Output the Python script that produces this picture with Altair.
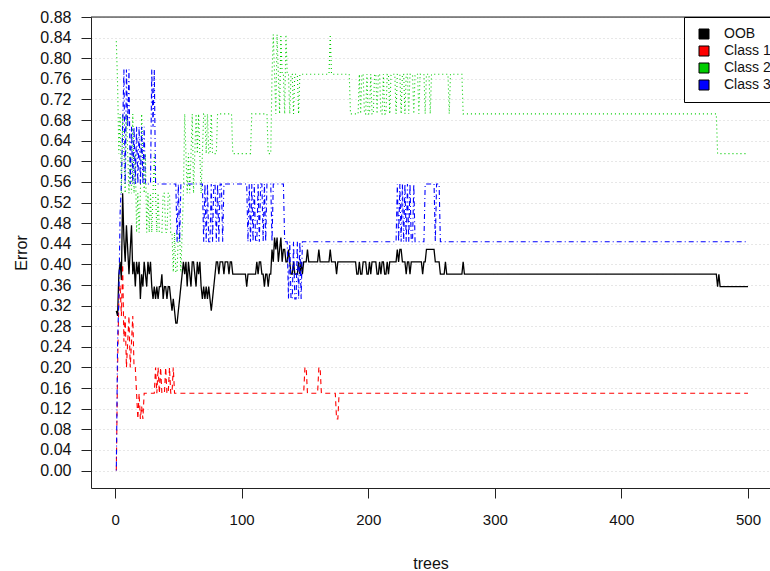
import altair as alt
import pandas as pd

N_TREES = 500

# Error-rate runs per series: (first tree of the run, error rate held until the next run)
oob_runs = [
    (1, .310), (2, .300), (3, .381), (4, .405), (5, .370), (6, .538), (7, .450), (8, .405),
    (9, .476), (10, .429), (11, .381), (12, .429), (13, .476), (14, .381), (15, .405), (16, .357),
    (17, .405), (18, .381), (19, .405), (20, .333), (21, .381), (22, .357), (23, .405), (24, .381),
    (25, .357), (26, .405), (27, .381), (28, .405), (29, .357), (30, .333), (31, .357), (32, .333),
    (33, .357), (34, .333), (35, .357), (37, .381), (38, .333), (39, .357), (41, .333), (42, .357),
    (44, .333), (45, .310), (46, .333), (47, .310), (48, .286), (50, .310), (51, .333), (52, .357),
    (53, .381), (54, .405), (55, .381), (56, .405), (57, .357), (58, .405), (59, .381), (60, .357),
    (61, .405), (63, .381), (64, .357), (65, .405), (66, .381), (67, .405), (68, .357), (69, .333),
    (70, .357), (71, .333), (72, .357), (73, .333), (74, .357), (75, .333), (76, .310), (77, .333),
    (78, .357), (79, .381), (80, .405), (82, .381), (83, .405), (86, .381), (87, .405), (90, .381),
    (91, .405), (93, .381), (104, .357), (105, .381), (112, .405), (113, .381), (114, .405),
    (116, .381), (118, .357), (119, .381), (121, .357), (122, .381), (124, .429), (125, .405),
    (126, .452), (127, .429), (128, .452), (129, .405), (130, .429), (131, .452), (132, .405),
    (133, .429), (135, .405), (137, .429), (138, .405), (139, .381), (141, .405), (142, .381),
    (145, .405), (146, .381), (147, .405), (148, .381), (149, .405), (152, .429), (153, .405),
    (161, .429), (162, .405), (170, .429), (171, .405), (175, .381), (176, .405), (191, .381),
    (193, .405), (194, .381), (196, .405), (199, .381), (201, .405), (202, .381), (203, .405),
    (207, .381), (209, .405), (210, .381), (211, .405), (213, .381), (215, .405), (216, .381),
    (217, .405), (223, .429), (224, .405), (225, .429), (227, .405), (230, .381), (231, .405),
    (233, .381), (234, .405), (243, .381), (244, .405), (246, .429), (253, .405), (257, .381),
    (261, .405), (262, .381), (275, .405), (276, .381), (476, .357), (477, .381), (478, .357),
]

class1_runs = [
    (1, .000), (2, .200), (3, .333), (4, .360), (5, .300), (6, .400), (7, .250), (8, .300),
    (9, .200), (10, .250), (11, .300), (12, .200), (13, .250), (14, .300), (15, .200), (17, .150),
    (18, .100), (19, .150), (20, .100), (21, .125), (22, .100), (23, .150), (32, .200), (33, .150),
    (34, .200), (35, .150), (36, .200), (37, .150), (40, .200), (41, .150), (43, .200), (44, .150),
    (46, .200), (47, .150), (150, .200), (152, .150), (161, .200), (163, .150), (175, .100),
    (177, .150),
]

class2_runs = [
    (1, .833), (2, .750), (3, .615), (4, .692), (5, .538), (6, .692), (7, .615), (8, .538),
    (9, .692), (10, .615), (11, .538), (12, .615), (13, .538), (14, .692), (15, .538), (16, .615),
    (17, .462), (18, .538), (19, .462), (20, .538), (21, .692), (22, .615), (23, .538), (24, .615),
    (25, .462), (26, .538), (27, .462), (28, .538), (29, .462), (30, .538), (31, .615), (32, .538),
    (33, .462), (34, .538), (35, .462), (38, .538), (40, .462), (42, .538), (44, .462), (46, .385),
    (47, .462), (48, .385), (50, .462), (52, .385), (53, .462), (54, .538), (55, .692), (56, .615),
    (57, .538), (58, .615), (59, .538), (60, .615), (61, .692), (62, .538), (63, .615), (64, .692),
    (65, .615), (66, .692), (67, .615), (68, .538), (69, .615), (70, .692), (72, .615), (73, .692),
    (74, .615), (76, .692), (77, .615), (81, .692), (93, .615), (108, .692), (121, .615),
    (124, .769), (125, .846), (126, .769), (127, .692), (128, .846), (129, .769), (130, .692),
    (131, .846), (132, .769), (134, .692), (135, .846), (136, .769), (138, .692), (139, .769),
    (141, .692), (142, .769), (145, .692), (146, .769), (170, .846), (171, .769), (186, .692),
    (193, .769), (194, .692), (195, .769), (197, .692), (199, .769), (200, .692), (202, .769),
    (203, .692), (205, .769), (207, .692), (208, .769), (210, .692), (212, .769), (213, .692),
    (215, .769), (217, .692), (218, .769), (222, .692), (223, .769), (226, .692), (227, .769),
    (229, .692), (230, .769), (232, .692), (233, .769), (236, .692), (237, .769), (240, .692),
    (241, .769), (245, .692), (246, .769), (249, .692), (250, .769), (264, .692), (265, .769),
    (275, .692), (476, .615),
]

class3_runs = [
    (1, .000), (2, .250), (3, .333), (4, .500), (5, .556), (6, .667), (7, .778), (8, .556),
    (9, .778), (10, .667), (11, .778), (12, .556), (13, .667), (14, .556), (15, .667), (16, .556),
    (17, .667), (18, .556), (19, .667), (20, .556), (21, .667), (22, .556), (23, .667), (24, .556),
    (29, .778), (30, .667), (31, .778), (32, .556), (49, .444), (50, .556), (51, .444), (52, .556),
    (70, .444), (71, .556), (72, .444), (73, .556), (74, .444), (76, .556), (77, .444), (78, .556),
    (80, .444), (81, .556), (82, .444), (83, .556), (85, .444), (86, .556), (105, .444),
    (106, .556), (107, .444), (108, .556), (109, .444), (110, .556), (111, .444), (113, .556),
    (114, .444), (115, .556), (117, .444), (118, .556), (119, .444), (120, .556), (124, .444),
    (125, .556), (134, .444), (137, .333), (138, .444), (139, .333), (141, .444), (142, .333),
    (144, .444), (145, .333), (146, .444), (147, .333), (148, .444), (223, .556), (224, .444),
    (225, .556), (226, .444), (227, .556), (228, .444), (229, .556), (230, .444), (231, .556),
    (232, .444), (233, .556), (234, .444), (236, .556), (237, .444), (245, .556), (253, .444),
    (254, .556), (257, .444),
]

series_names = ["OOB", "Class 1", "Class 2", "Class 3"]
series_runs = [oob_runs, class1_runs, class2_runs, class3_runs]
series_colors = ["#000000", "#FF0000", "#00CD00", "#0000FF"]
series_dash = [[1, 0], [5, 4], [1, 3], [1, 3, 5, 3]]
series_width = [1.3, 1.1, 1.1, 1.1]

y_ticks = [round(0.04 * i, 2) for i in range(23)]
x_ticks = [0, 100, 200, 300, 400, 500]


def expand(runs):
    """Turn (start tree, value) runs into one error value per tree."""
    rows = []
    for i, (start, value) in enumerate(runs):
        end = runs[i + 1][0] if i + 1 < len(runs) else N_TREES + 1
        for t in range(start, end):
            rows.append((t, value))
    return pd.DataFrame(rows, columns=["trees", "Error"])


FONT = "Liberation Sans"
x_scale = alt.Scale(domain=[-19.0, 517.4], nice=False, zero=False)
y_scale = alt.Scale(domain=[-0.0338, 0.88], nice=False, zero=False)

x_axis = alt.Axis(values=x_ticks, grid=False, tickSize=10, tickColor="#222", domainColor="#222",
                  labelFontSize=15, labelPadding=14, labelColor="#111", labelFont=FONT,
                  titleFont=FONT, titleFontSize=16, titleFontWeight="normal", titleColor="#111",
                  titlePadding=28)
y_axis = alt.Axis(values=y_ticks, format=".2f", grid=True, gridDash=[1, 3], gridColor="#cfcfcf",
                  gridWidth=1, tickSize=10, tickColor="#222", domainColor="#222",
                  labelFontSize=16, labelPadding=10, labelColor="#111", labelFont=FONT,
                  titleFont=FONT, titleFontSize=16, titleFontWeight="normal", titleColor="#111",
                  titlePadding=10)

layers = []
for i, (name, runs) in enumerate(zip(series_names, series_runs)):
    df = expand(runs)
    layers.append(
        alt.Chart(df).mark_line(color=series_colors[i], strokeDash=series_dash[i],
                                strokeWidth=series_width[i], opacity=1,
                                interpolate="linear").encode(
            x=alt.X("trees:Q", scale=x_scale, axis=x_axis, title="trees"),
            y=alt.Y("Error:Q", scale=y_scale, axis=y_axis, title="Error"),
        )
    )

# Legend keys: filled squares outlined in black
legend_df = pd.DataFrame({"series": series_names})
legend_layer = alt.Chart(legend_df).mark_square(size=100, filled=True, stroke="black",
                                                strokeWidth=1, opacity=1).encode(
    x=alt.value(-300),
    y=alt.value(-300),
    fill=alt.Fill("series:N",
                  scale=alt.Scale(domain=series_names, range=series_colors),
                  legend=alt.Legend(title=None, orient="none", legendX=593, legendY=0,
                                    padding=10, strokeColor="black", fillColor="white",
                                    symbolType="square", symbolSize=100, symbolOpacity=1,
                                    symbolStrokeColor="black", symbolStrokeWidth=1,
                                    symbolOffset=3, labelOffset=13, rowPadding=3,
                                    labelFontSize=14, labelFont=FONT, labelColor="#111",
                                    cornerRadius=0)),
)

# Top edge of the plot frame
top_edge = alt.Chart(legend_df.head(1)).mark_rule(color="#222", strokeWidth=1).encode(
    x=alt.value(0), x2=alt.value(679), y=alt.value(0)
)

chart = alt.layer(*layers, top_edge, legend_layer).properties(
    width=679, height=471,
    autosize=alt.AutoSizeParams(type="none"),
    padding={"left": 91, "top": 17, "right": 0, "bottom": 83},
).configure_view(stroke=None).configure(background="white")

chart.save("out.html", embed_options={"renderer": "svg", "actions": False})
